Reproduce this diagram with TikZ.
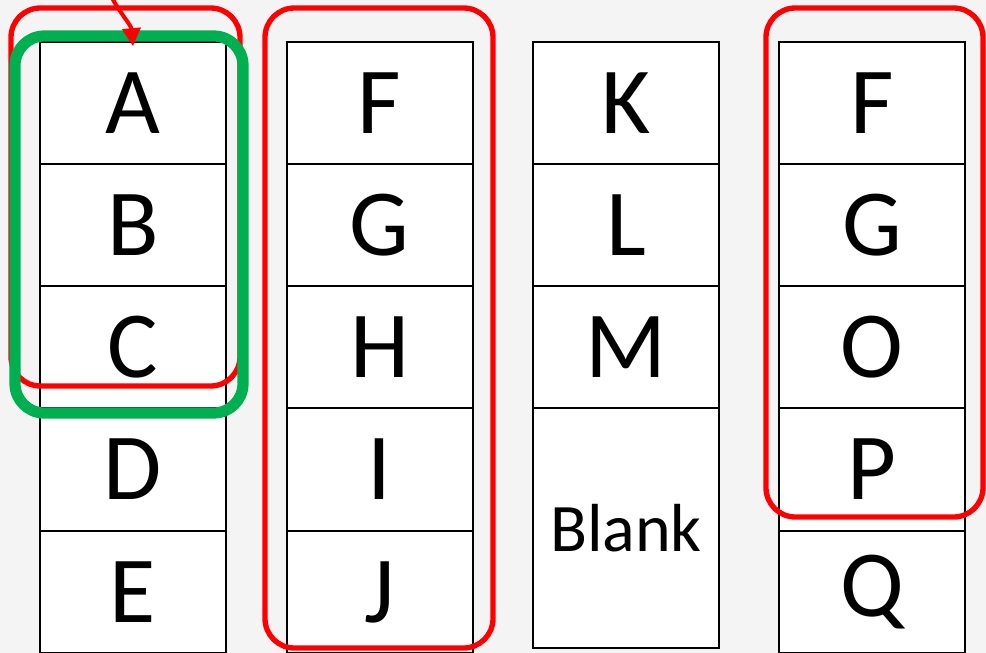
\documentclass[tikz,border=0pt]{standalone}
\usepackage{fontspec}
\setmainfont{Carlito}
\usetikzlibrary{arrows.meta}
\definecolor{bg}{RGB}{244,244,244}
\definecolor{hired}{RGB}{255,0,0}
\definecolor{higreen}{RGB}{0,176,80}
\begin{document}
\begin{tikzpicture}[x=0.75pt,y=-0.75pt,
  cell/.style={draw=black, fill=white, line width=1.5pt, inner sep=0pt,
    minimum width=139.5pt, minimum height=91.7pt,
    font=\fontsize{71}{71}\selectfont},
  redbox/.style={draw=hired, line width=4pt, rounded corners=22pt},
  greenbox/.style={draw=higreen, line width=8.4pt, rounded corners=22pt},
  pointer/.style={draw=hired, line width=3pt, -{Triangle[length=13.5pt,width=13.5pt]}}]
\useasboundingbox (0,0) rectangle (986,653);
\fill[bg] (0,0) rectangle (986,653);
% column 1
\node[cell] (a) at (133,103) {A};
\node[cell] (b) at (133,225) {B};
\node[cell] (c) at (133,347) {C};
\node[cell] (d) at (133,469.5) {D};
\node[cell] (e) at (133,592) {E};
% column 2
\node[cell] (f1) at (379.5,103) {F};
\node[cell] (g1) at (379.5,225) {G};
\node[cell] (h) at (379.5,347) {H};
\node[cell] (i) at (379.5,469.5) {I};
\node[cell] (j) at (379.5,592) {J};
% column 3
\node[cell] (k) at (626,103) {K};
\node[cell] (l) at (626,225) {L};
\node[cell] (m) at (626,347) {M};
\node[cell, minimum height=180pt, font=\fontsize{51}{51}\selectfont] (blank) at (626,528) {Blank};
% column 4
\node[cell] (f2) at (872,103) {F};
\node[cell] (g2) at (872,225) {G};
\node[cell] (o) at (872,347) {O};
\node[cell] (p) at (872,469.5) {P};
\node[cell] (q) at (872,592) {Q};
% highlight frames
\draw[redbox] (11,8) rectangle (240,386);
\draw[greenbox] (15,36) rectangle (243,413);
\draw[redbox] (265,8) rectangle (493,648);
\draw[redbox] (766,8) rectangle (983,517);
% pointer
\coordinate (start) at (111,-4);
\draw[pointer] (start) to[out=-62,in=95] ([yshift=-4pt]a.north);
\end{tikzpicture}
\end{document}
